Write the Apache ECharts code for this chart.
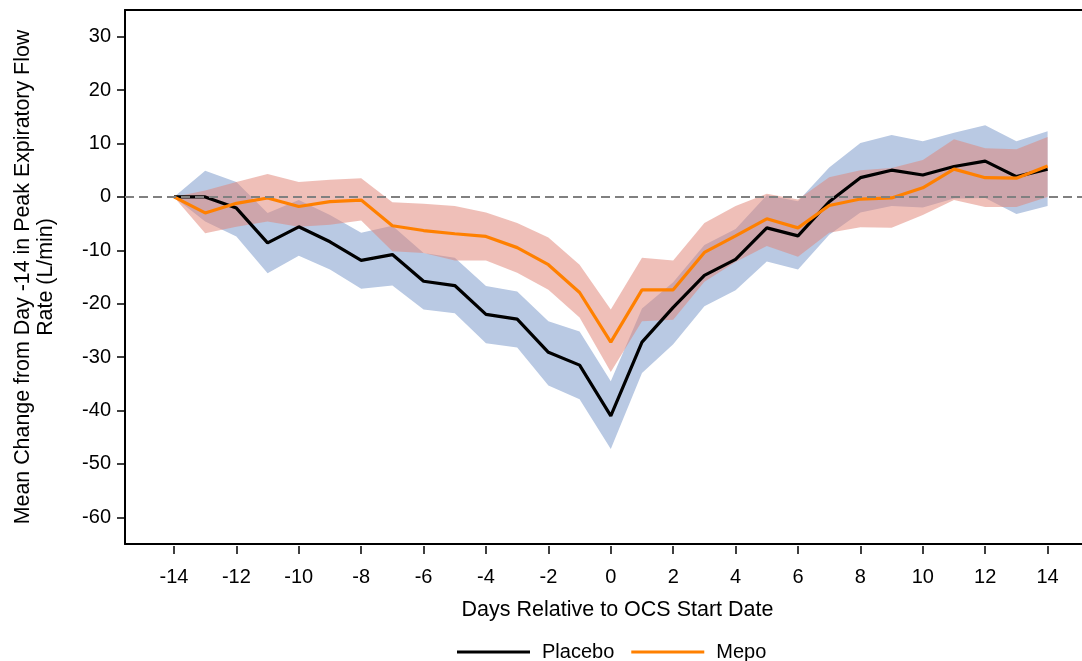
<!DOCTYPE html>
<html>
<head>
<meta charset="utf-8">
<script src="https://cdn.jsdelivr.net/npm/echarts@6/dist/echarts.min.js"></script>
<style>
html,body{margin:0;padding:0;background:#fff;overflow:hidden;}
/* plot frame runs past the right edge of the picture, as in the original */
#chart{width:1110px;height:661px;}
</style>
</head>
<body>
<div id="chart"></div>
<script>
var days = [-14,-13,-12,-11,-10,-9,-8,-7,-6,-5,-4,-3,-2,-1,0,1,2,3,4,5,6,7,8,9,10,11,12,13,14];
var xTicks = [-14,-12,-10,-8,-6,-4,-2,0,2,4,6,8,10,12,14];
var yTicks = [-60,-50,-40,-30,-20,-10,0,10,20,30];

var placeboMean  = [0,0,-2.1,-8.6,-5.6,-8.4,-11.9,-10.8,-15.8,-16.6,-22.0,-22.9,-29.1,-31.5,-41.0,-27.2,-20.7,-14.7,-11.7,-5.8,-7.3,-0.9,3.6,5.0,4.1,5.7,6.7,3.8,5.2];
var placeboUpper = [0,4.9,2.8,-3.0,-0.6,-3.4,-6.7,-5.4,-10.5,-11.4,-16.7,-17.7,-23.3,-25.2,-34.5,-20.9,-16.0,-9.0,-6.0,0.3,-0.8,5.5,10.1,11.6,10.4,12.0,13.4,10.4,12.3];
var placeboLower = [0,-4.6,-7.4,-14.3,-11.0,-13.6,-17.2,-16.6,-21.1,-21.8,-27.4,-28.2,-35.3,-37.9,-47.2,-33.0,-27.6,-20.5,-17.5,-12.1,-13.6,-7.1,-2.9,-1.7,-2.0,-0.3,-0.2,-3.2,-1.7];

var mepoMean  = [0,-3.0,-1.2,-0.2,-1.8,-0.9,-0.6,-5.4,-6.3,-6.9,-7.4,-9.5,-12.7,-17.9,-27.2,-17.4,-17.4,-10.4,-7.3,-4.1,-5.8,-1.6,-0.4,-0.2,1.7,5.2,3.6,3.5,5.8];
var mepoUpper = [0,1.2,2.8,4.3,2.8,3.2,3.5,-1.0,-1.3,-1.7,-2.9,-4.9,-7.6,-12.7,-21.1,-11.4,-11.9,-4.9,-1.7,0.6,-0.5,3.7,5.0,5.4,6.9,10.8,9.1,8.9,11.2];
var mepoLower = [0,-6.8,-5.6,-4.6,-5.6,-5.2,-4.4,-10.2,-10.5,-11.9,-11.9,-14.2,-17.4,-22.6,-32.8,-23.3,-23.0,-15.9,-12.2,-9.2,-11.2,-6.7,-5.7,-5.8,-3.4,-0.6,-1.9,-1.9,0];

var FONT = 'Liberation Sans, Arial, sans-serif';
var X_MIN = -15.57, X_MAX = 16;

function pairs(vals){
	var out = [];
	for(var i=0;i<days.length;i++){
		out.push([days[i], vals[i]]);
	}
	return out;
}
function bandRows(up, low){
	var out = [];
	for(var i=0;i<days.length;i++){
		out.push([days[i], low[i], up[i]]);
	}
	return out;
}
// one polygon for the whole band, drawn on the first item only
function bandSeries(name, up, low, color, z){
	var rows = bandRows(up, low);
	return {
		name:name, type:'custom', silent:true, z:z,
		data:rows,
		encode:{x:0, y:[1,2]},
		renderItem:function(params, api){
			if(params.dataIndex !== 0) return null;
			var pts = [];
			for(var i=0;i<rows.length;i++) pts.push(api.coord([rows[i][0], rows[i][2]]));
			for(var j=rows.length-1;j>=0;j--) pts.push(api.coord([rows[j][0], rows[j][1]]));
			return {
				type:'polygon',
				shape:{points:pts},
				style:{fill:color, stroke:null}
			};
		}
	};
}

var myChart = echarts.init(document.getElementById('chart'));

var option = {
	animation:false,
	backgroundColor:'#fff',
	grid:{left:125, right:0, top:10, height:534},
	legend:{
		data:['Placebo','Mepo'],
		left:457, top:642, padding:0,
		icon:'rect', itemWidth:73, itemHeight:3, itemGap:17,
		textStyle:{fontFamily:FONT, fontSize:20, color:'#000', padding:[0,0,0,7]}
	},
	xAxis:[{
		type:'value', min:X_MIN, max:X_MAX, position:'bottom',
		name:'Days Relative to OCS Start Date',
		nameLocation:'middle', nameGap:55,
		nameTextStyle:{fontFamily:FONT, fontSize:21.5, color:'#000'},
		axisLine:{show:true, onZero:false, lineStyle:{color:'#000', width:2}},
		axisTick:{show:false}, axisLabel:{show:false}, splitLine:{show:false}
	},{
		type:'value', min:X_MIN, max:X_MAX, position:'bottom', offset:2,
		axisLine:{show:false, onZero:false},
		axisTick:{show:true, customValues:xTicks, length:8, lineStyle:{color:'#000', width:1.5}},
		axisLabel:{show:true, customValues:xTicks, margin:21, fontFamily:FONT, fontSize:20, color:'#000'},
		splitLine:{show:false}
	},{
		type:'value', min:X_MIN, max:X_MAX, position:'top',
		axisLine:{show:true, onZero:false, lineStyle:{color:'#000', width:2}},
		axisTick:{show:false}, axisLabel:{show:false}, splitLine:{show:false}
	}],
	yAxis:{
		type:'value', min:-65, max:35,
		name:'Mean Change from Day -14 in Peak Expiratory Flow\nRate (L/min)',
		nameLocation:'middle', nameGap:67,
		nameTextStyle:{fontFamily:FONT, fontSize:21.4, color:'#000', lineHeight:23},
		axisLine:{show:true, onZero:false, lineStyle:{color:'#000', width:2}},
		axisTick:{show:true, customValues:yTicks, length:8, lineStyle:{color:'#000', width:1.5}},
		axisLabel:{show:true, customValues:yTicks, margin:14, fontFamily:FONT, fontSize:20, color:'#000'},
		splitLine:{show:false}
	},
	series:[
		bandSeries('placeboBand', placeboUpper, placeboLower, '#b9c9e3', 1),
		bandSeries('mepoBand', mepoUpper, mepoLower, 'rgba(224,132,118,0.52)', 2),
		{
			name:'zero', type:'line', data:[], z:2, silent:true,
			markLine:{
				silent:true, symbol:'none', label:{show:false},
				lineStyle:{color:'#808080', width:2, type:[9,5]},
				data:[{yAxis:0}]
			}
		},{
			name:'Placebo', type:'line', data:pairs(placeboMean),
			symbol:'none', color:'#000',
			lineStyle:{color:'#000', width:3.2}, z:3
		},{
			name:'Mepo', type:'line', data:pairs(mepoMean),
			symbol:'none', color:'#ff8000',
			lineStyle:{color:'#ff8000', width:3.2}, z:4
		}
	]
};
myChart.setOption(option);
</script>
</body>
</html>
